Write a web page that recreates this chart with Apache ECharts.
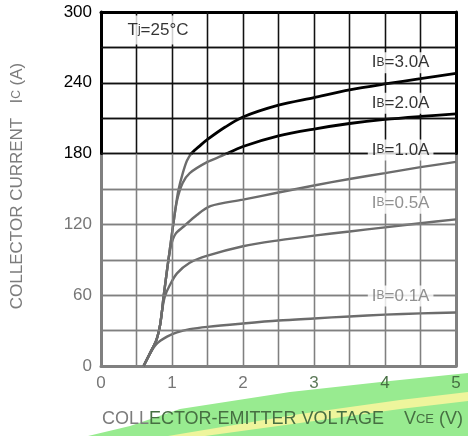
<!DOCTYPE html>
<html><head><meta charset="utf-8">
<script src="https://cdn.jsdelivr.net/npm/echarts@6/dist/echarts.min.js"></script>
<style>html,body{margin:0;padding:0;background:#fff}#c{width:468px;height:436px}</style>
</head><body><div id="c"></div>
<script>
// ---- data ----
const vce01 = [0.6, 0.69, 0.78, 0.93, 1.07, 1.25, 1.5, 2, 2.5, 3, 3.5, 4, 4.5, 5];
const ic01  = [0, 10.5, 18.6, 24.9, 28.5, 31.2, 33.2, 36, 38.5, 40.3, 42, 43.5, 44.6, 45.3];

const vce05 = [0.6, 0.7, 0.78, 0.83, 0.86, 0.9, 0.97, 1.07, 1.25, 1.5, 2, 2.5, 3, 3.5, 4, 4.5, 5];
const ic05  = [0, 12, 22, 34, 47, 59, 68.6, 78.5, 87.5, 93.5, 101.5, 106.5, 110.5, 114, 117.5, 121, 124.3];

const vce10 = [0.6, 0.7, 0.78, 0.83, 0.86, 0.88, 0.91, 0.95, 0.99, 1.05, 1.16, 1.35, 1.54, 2, 2.5, 3, 3.5, 4, 4.5, 5];
const ic10  = [0, 12, 22, 34, 47, 58, 72, 90, 103, 112, 118, 128, 135.5, 141, 147, 153, 158.5, 163.5, 168.5, 173];

const vce20 = [0.6, 0.7, 0.78, 0.83, 0.86, 0.88, 0.91, 0.95, 0.99, 1.02, 1.07, 1.15, 1.25, 1.5, 1.7, 2, 2.5, 3, 3.5, 4, 4.5, 5];
const ic20  = [0, 12, 22, 34, 47, 58, 72, 90, 108, 121, 140, 155, 163.5, 173, 178, 186, 195, 200.8, 205.5, 209, 211.5, 213.6];

const vce30 = [0.6, 0.7, 0.78, 0.83, 0.86, 0.88, 0.91, 0.95, 0.99, 1.02, 1.06, 1.09, 1.15, 1.21, 1.28, 1.4, 1.5, 1.75, 2, 2.5, 3, 3.5, 4, 4.5, 5];
const ic30  = [0, 12, 22, 34, 47, 58, 72, 90, 108, 121, 138, 149, 163, 174, 180.5, 187, 192, 202.5, 211, 221, 227.5, 234, 239, 243.5, 248];

const curveVce = [vce01, vce05, vce10, vce20, vce30];
const curveIc  = [ic01, ic05, ic10, ic20, ic30];

const labelIb  = ['3.0', '2.0', '1.0', '0.5', '0.1'];
const labelVce = [4.22, 4.22, 4.22, 4.22, 4.22];
const labelIc  = [257, 222.6, 183, 138, 59.3];

const tjText = ['T', 'j', '=25°C'];
const tjVce = 0.775, tjIc = 284.7;

const xMin = 0, xMax = 5, xStep = 0.5, xLabelStep = 1;
const yMin = 0, ySplit = 180, yMax = 300, yStep = 30, yLabelStep = 60;

// ---- styles ----
const FONT = 'Liberation Sans';
const BLACK = '#000';
const GRAY = '#767676';
const LINEGRAY = '#6c6c6c';
const GRIDGRAY = '#808080';
const GREEN = '#466f42';

const chart = echarts.init(document.getElementById('c'));

const L = 101, R = 12, TOP = 12, BOT = 366;
const pxPerA = (BOT - TOP) / (yMax - yMin);
const splitY = BOT - (ySplit - yMin) * pxPerA;

function xAxisCfg(gi, color, pos, showLabel) {
  return {
    type: 'value', gridIndex: gi, min: xMin, max: xMax, interval: xStep, position: pos,
    z: gi === 0 ? 2 : 1,
    axisLine: {show: true, onZero: false, lineStyle: {color: color, width: 3}},
    axisTick: {show: false},
    splitLine: {show: true, lineStyle: {color: color === BLACK ? '#111' : GRIDGRAY, width: 1.3}},
    axisLabel: showLabel ? {
      show: true, margin: 9, fontFamily: FONT, fontSize: 17,
      formatter: v => {
        if (Math.abs(v / xLabelStep - Math.round(v / xLabelStep)) > 1e-6) return '';
        const c = v <= 2 ? 'g' : (v === 3 ? 'm' : 'd');
        return '{' + c + '|' + v + '}';
      },
      rich: {
        g: {color: GRAY, fontFamily: FONT, fontSize: 17},
        m: {color: '#5d7a59', fontFamily: FONT, fontSize: 17},
        d: {color: GREEN, fontFamily: FONT, fontSize: 17}
      }
    } : {show: false}
  };
}

function yAxisCfg(gi, min, max, color, pos, showLabel, hideMax) {
  return {
    type: 'value', gridIndex: gi, min: min, max: max, interval: yStep, position: pos,
    z: gi === 0 ? 2 : 1,
    axisLine: {show: true, lineStyle: {color: color, width: 3}},
    axisTick: {show: false},
    splitLine: pos === 'left' ? {show: true, showMaxLine: !hideMax,
      lineStyle: {color: color === BLACK ? '#111' : GRIDGRAY, width: 1.3}} : {show: false},
    axisLabel: showLabel ? {
      show: true, margin: 9, color: color === BLACK ? BLACK : GRAY, fontFamily: FONT, fontSize: 17,
      formatter: v => (v % yLabelStep === 0 && !(hideMax && v === max)) ? String(v) : ''
    } : {show: false}
  };
}

// grid-line positions follow the axis steps
function steps(a, b, s) { const out = []; for (let v = a; v <= b + 1e-9; v += s) out.push(Math.round(v * 1000) / 1000); return out; }
const gridXs = steps(xMin + xStep, xMax - xStep, xStep);
const gridYsTop = steps(ySplit, yMax - yStep, yStep);
const gridYsBot = steps(yMin + yStep, ySplit - yStep, yStep);

const series = [];

// backup grid lines drawn through the axes' scales
[0, 1].forEach(gi => {
  const ys = gi === 0 ? gridYsTop : gridYsBot;
  series.push({
    type: 'line', xAxisIndex: gi, yAxisIndex: gi, silent: true, z: 1,
    data: [[xMin, gi === 0 ? ySplit : yMin]], symbol: 'none', showSymbol: false,
    lineStyle: {width: 0, opacity: 0},
    markLine: {
      silent: true, animation: false, symbol: ['none', 'none'],
      label: {show: false}, emphasis: {disabled: true},
      lineStyle: {type: 'solid', color: gi === 0 ? '#111' : GRIDGRAY, width: 1.3},
      data: gridXs.map(v => ({xAxis: v})).concat(ys.map(v => ({yAxis: v})))
    }
  });
});

[0, 1].forEach(gi => {
  curveVce.forEach((xs, k) => {
    series.push({
      type: 'line', xAxisIndex: gi, yAxisIndex: gi,
      data: xs.map((x, i) => [x, curveIc[k][i]]),
      showSymbol: false, symbol: 'none', smooth: 0.3, clip: true,
      lineStyle: {color: gi === 0 ? BLACK : LINEGRAY, width: gi === 0 ? 2.8 : 2.4},
      silent: true, z: 3
    });
  });
});

labelIb.forEach((t, i) => {
  const gi = labelIc[i] >= ySplit ? 0 : 1;
  const color = labelIc[i] >= ySplit ? BLACK : GRAY;
  series.push({
    type: 'scatter', xAxisIndex: gi, yAxisIndex: gi, silent: true, z: 5,
    symbolSize: 1, itemStyle: {color: 'rgba(0,0,0,0)'},
    data: [[labelVce[i], labelIc[i]]],
    label: {
      show: true, position: 'inside',
      formatter: '{b|I}{s|B}{b|=' + t + 'A}',
      rich: {
        b: {fontFamily: FONT, fontSize: 17, color: color},
        s: {fontFamily: FONT, fontSize: 12, color: color}
      },
      backgroundColor: '#fff', padding: [2, 4, 2, 4]
    }
  });
});

series.push({
  type: 'scatter', xAxisIndex: 0, yAxisIndex: 0, silent: true, z: 5,
  symbolSize: 1, itemStyle: {color: 'rgba(0,0,0,0)'},
  data: [[tjVce, tjIc]],
  label: {
    show: true, position: 'inside',
    formatter: '{b|' + tjText[0] + '}{j|' + tjText[1] + '}{b|' + tjText[2] + '}',
    rich: {
      b: {fontFamily: FONT, fontSize: 17, color: BLACK},
      j: {fontFamily: FONT, fontSize: 12, color: BLACK}
    },
    backgroundColor: '#fff', padding: [6, 10, 6, 14]
  }
});

const option = {
  animation: false,
  backgroundColor: '#fff',
  grid: [
    {left: L, right: R, top: TOP, height: splitY - TOP},
    {left: L, right: R, top: splitY, height: BOT - splitY}
  ],
  xAxis: [
    xAxisCfg(0, BLACK, 'top', false),
    xAxisCfg(1, GRIDGRAY, 'bottom', true)
  ],
  yAxis: [
    yAxisCfg(0, ySplit, yMax, BLACK, 'left', true, false),
    yAxisCfg(1, yMin, ySplit, GRIDGRAY, 'left', true, true),
    yAxisCfg(0, ySplit, yMax, BLACK, 'right', false, false),
    yAxisCfg(1, yMin, ySplit, GRIDGRAY, 'right', false, true)
  ],
  graphic: [
    {type: 'polygon', z: -10, silent: true,
     shape: {points: [[88, 436], [130, 426], [180, 409], [290, 392], [390, 381], [468, 373], [468, 436]]},
     style: {fill: '#98eb90'}},
    {type: 'polygon', z: -9, silent: true,
     shape: {points: [[168, 436], [300, 414], [400, 400], [468, 392], [468, 401], [400, 409], [300, 423], [205, 436]]},
     style: {fill: '#eef59c'}},
    {type: 'text', z: 10, silent: true, x: 17, y: 186, rotation: Math.PI / 2,
     style: {
       text: '{a|COLLECTOR CURRENT   I}{s|C}{a| (A)}',
       align: 'center', verticalAlign: 'middle',
       rich: {
         a: {fontFamily: FONT, fontSize: 17, fill: '#7c7c7c'},
         s: {fontFamily: FONT, fontSize: 12, fill: '#7c7c7c'}
       }
     }},
    {type: 'text', z: 10, silent: true, x: 463, y: 419,
     style: {
       text: '{g|COLL}{d|ECTOR-EMITTER VOLTAGE    V}{s|CE}{d| (V)}',
       align: 'right', verticalAlign: 'middle',
       rich: {
         g: {fontFamily: FONT, fontSize: 18, fill: '#7c7c7c'},
         d: {fontFamily: FONT, fontSize: 18, fill: GREEN},
         s: {fontFamily: FONT, fontSize: 13, fill: GREEN}
       }
     }}
  ],
  series: series
};
chart.setOption(option);
</script></body></html>
